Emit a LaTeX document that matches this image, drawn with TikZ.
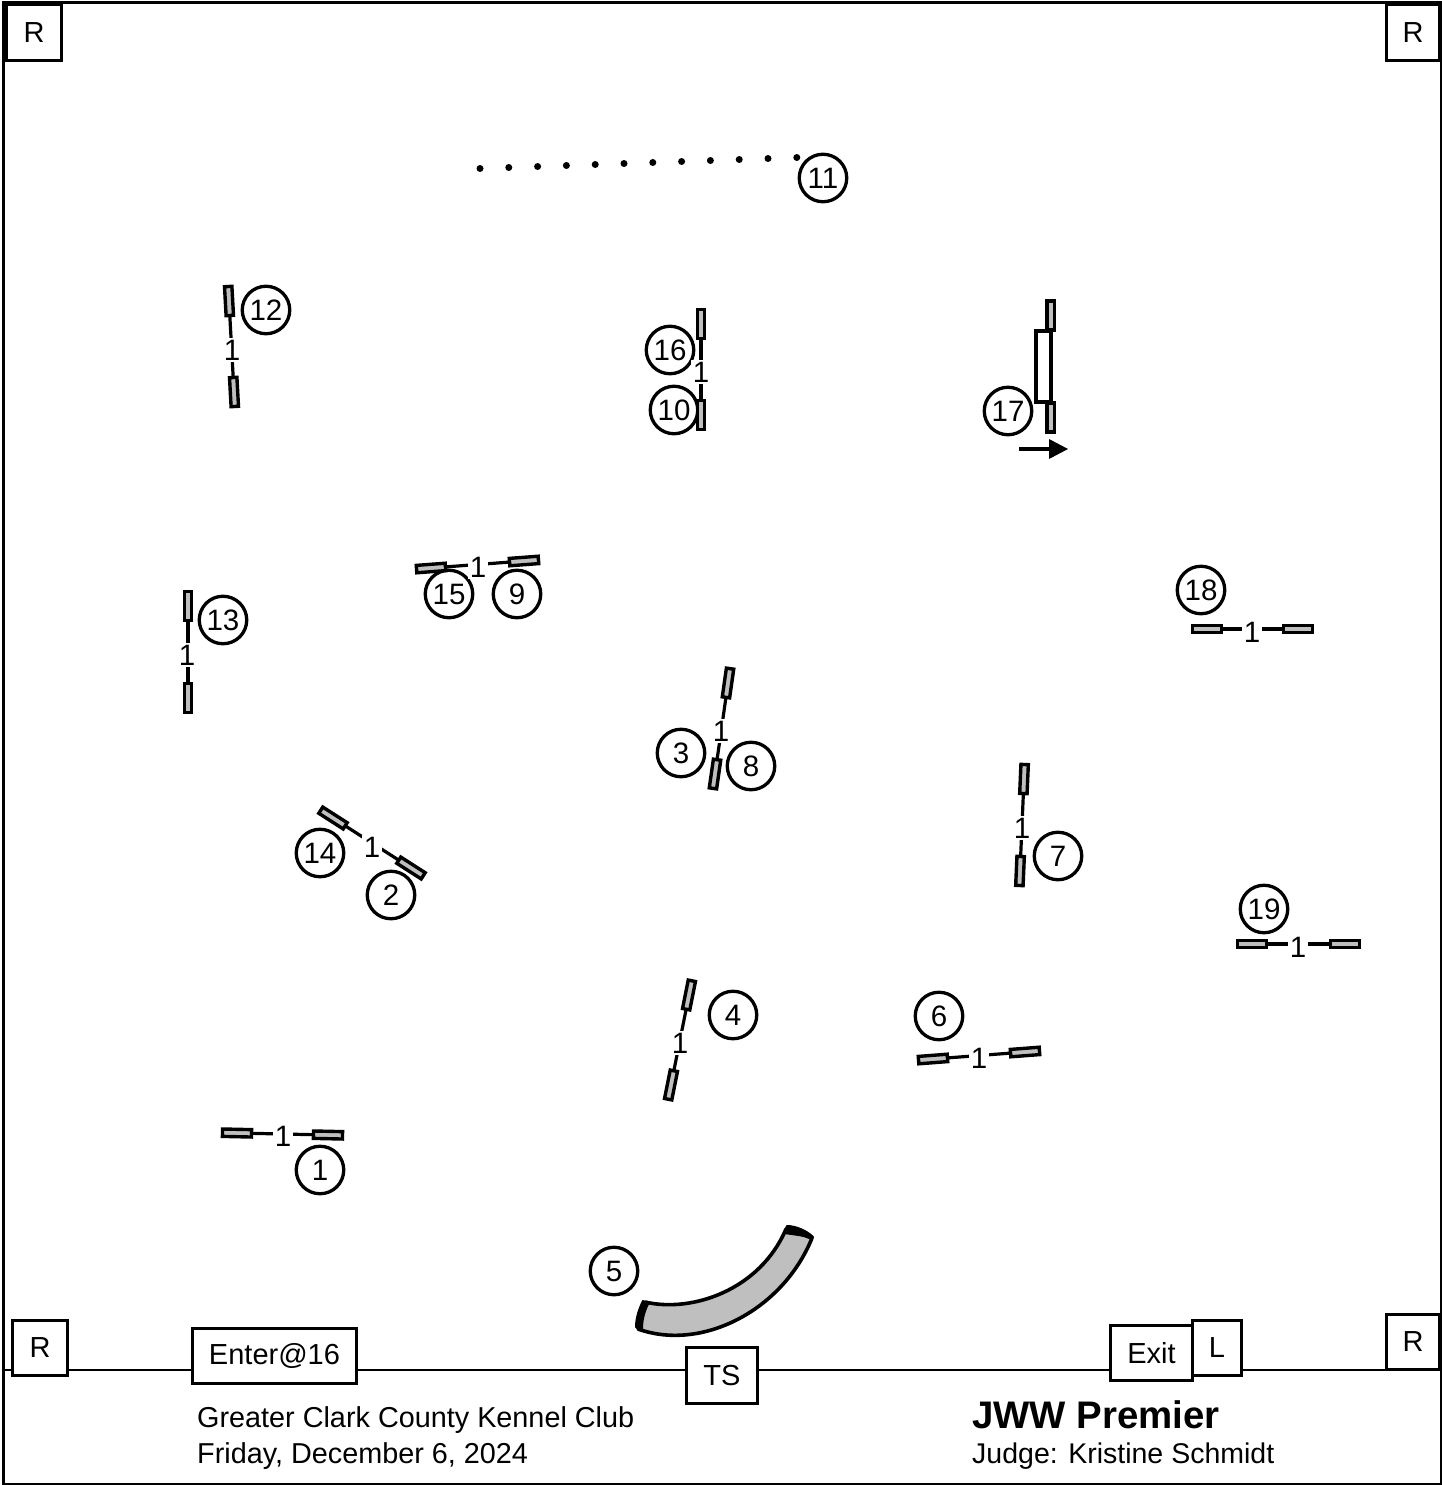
\documentclass[tikz,border=0pt]{standalone}
\usepackage{fontspec}
\setmainfont{Liberation Sans}
\newcommand{\fs}[1]{\fontsize{#1}{#1}\selectfont}
\tikzset{
  numcirc/.style={circle,draw=black,fill=white,line width=3.3pt,minimum size=47.5pt,inner sep=0pt,font=\fs{29.5}},
  wing/.style={rectangle,draw=black,fill=black!25,line width=3.4pt,minimum width=29pt,minimum height=7.4pt,inner sep=0pt},
  barline/.style={draw=black,line width=3.2pt},
  barlabel/.style={fill=white,inner sep=1.6pt,font=\fs{29.5}},
  tag/.style={rectangle,draw=black,fill=white,line width=3.2pt,inner sep=0pt,font=\fs{29}},
  dot/.style={circle,fill=black,inner sep=0pt,minimum size=7pt},
  caption/.style={anchor=west,inner sep=0pt,font=\fs{28.8}},
}
\newcommand{\jumpbar}[7]{%
  \pgfmathsetmacro{\jang}{atan2(-(#5-#3),#4-#2)}
  \coordinate (#1c) at (#2,#3);
  \coordinate (#1d) at (#4,#5);
  \draw[barline] (#1c) -- (#1d);
  \node[wing,rotate=\jang] (#1a) at (#1c) {};
  \node[wing,rotate=\jang] (#1b) at (#1d) {};
  \node[barlabel] (#1l) at (#6,#7) {1};
}
\newcommand{\tagbox}[7]{%
  \node[tag,minimum width=#4pt-#2pt-1pt,minimum height=#5pt-#3pt-1pt] (#1) at ({(#2+#4)/2},{(#3+#5)/2}) {#6};
}
\begin{document}
\begin{tikzpicture}[x=1pt,y=-1pt]
\useasboundingbox (0,0) rectangle (1442,1485);
\fill[white] (0,0) rectangle (1442,1485);
% field
\draw[black,line width=3pt] (3,3) rectangle (1441,1484);
\coordinate (gl) at (3,1370);
\coordinate (gr) at (1441,1370);
\draw[black,line width=2.8pt] (gl) -- (gr);
% number circles
\foreach \n/\x/\y in {1/320/1170,2/391/895,3/681/753,4/733/1015,5/614/1271,6/939/1016,7/1058/856,8/751/766,9/517/594,10/674/410,11/823/178,12/266/310,13/223/620,14/320/853,15/449/594,16/670/350,17/1008/411,18/1201/590,19/1264/909}
  \node[numcirc] (c\n) at (\x,\y) {\n};
% jumps
\jumpbar{ja}{237}{1133}{328}{1135}{283}{1136}
\jumpbar{jb}{333}{818}{411}{868}{372}{847}
\jumpbar{jc}{728}{683}{715}{774}{721}{731}
\jumpbar{jd}{689}{995}{671}{1085}{680}{1043}
\jumpbar{je}{933}{1059}{1025}{1052}{979}{1058}
\jumpbar{jf}{1024}{779}{1020}{871}{1022}{828}
\jumpbar{jg}{431}{568}{524}{561}{478}{567}
\jumpbar{jh}{701}{324}{701}{415}{701}{372}
\jumpbar{ji}{229}{301}{234}{392}{232}{350}
\jumpbar{jj}{188}{606}{188}{698}{187}{655}
\jumpbar{jk}{1207}{629}{1298}{629}{1252}{632}
\jumpbar{jl}{1252}{944}{1345}{944}{1298}{947}
% weave
\foreach \i in {0,...,11}
  \node[dot] (w\i) at ({480+\i*28.8},{168.5-\i*1}) {};
% panel jump 17
\node[wing,rotate=90] (pa) at (1050.5,315.5) {};
\node[wing,rotate=90] (pb) at (1050.5,417.5) {};
\node[rectangle,draw=black,fill=white,line width=3.2pt,minimum width=15pt,minimum height=71pt,inner sep=0pt] (pp) at (1043.5,366.5) {};
\coordinate (ar1) at (1019,449);
\coordinate (ar2) at (1050,449);
\draw[black,line width=3.2pt] (ar1) -- (ar2);
\fill[black] (1049,439) -- (1068,449) -- (1049,459) -- cycle;
% tunnel
\path[fill=black!25,draw=black,line width=3.6pt,line join=round]
  (645,1302) .. controls (692,1313) and (760,1290) .. (786,1229)
  -- (812,1238) .. controls (783,1310) and (702,1352) .. (638,1329) -- cycle;
\path[fill=black,draw=black,line width=2pt,line join=round]
  (787,1226) .. controls (796,1226) and (807,1231) .. (813,1237) .. controls (804,1236) and (793,1234) .. (784,1233) -- cycle;
\path[fill=black,draw=black,line width=2pt,line join=round]
  (643,1301) .. controls (639,1309) and (636,1318) .. (636,1327) .. controls (638,1329) and (640,1329) .. (642,1329) .. controls (642,1320) and (644,1312) .. (648,1304) -- cycle;
% boxes
\tagbox{r1}{6}{4}{62}{61}{R}{}
\tagbox{r2}{1386}{4}{1440}{61}{R}{}
\tagbox{r3}{12}{1320}{68}{1376}{R}{}
\tagbox{r4}{1386}{1314}{1440}{1370}{R}{}
\tagbox{ent}{192}{1328}{357}{1384}{Enter@16}{}
\tagbox{ts}{686}{1347}{758}{1404}{TS}{}
\tagbox{lb}{1192}{1320}{1242}{1376}{L}{}
\tagbox{ex}{1110}{1325}{1193}{1381}{Exit}{}
% captions
\node[caption] (t1) at (197,1420) {Greater Clark County Kennel Club};
\node[caption] (t2) at (197,1456) {Friday, December 6, 2024};
\node[caption,font=\fs{38.4}\bfseries] (t3) at (972,1415) {JWW Premier};
\node[caption,font=\fs{28.5}] (t4) at (972,1456) {Judge: Kristine Schmidt};
\end{tikzpicture}
\end{document}
